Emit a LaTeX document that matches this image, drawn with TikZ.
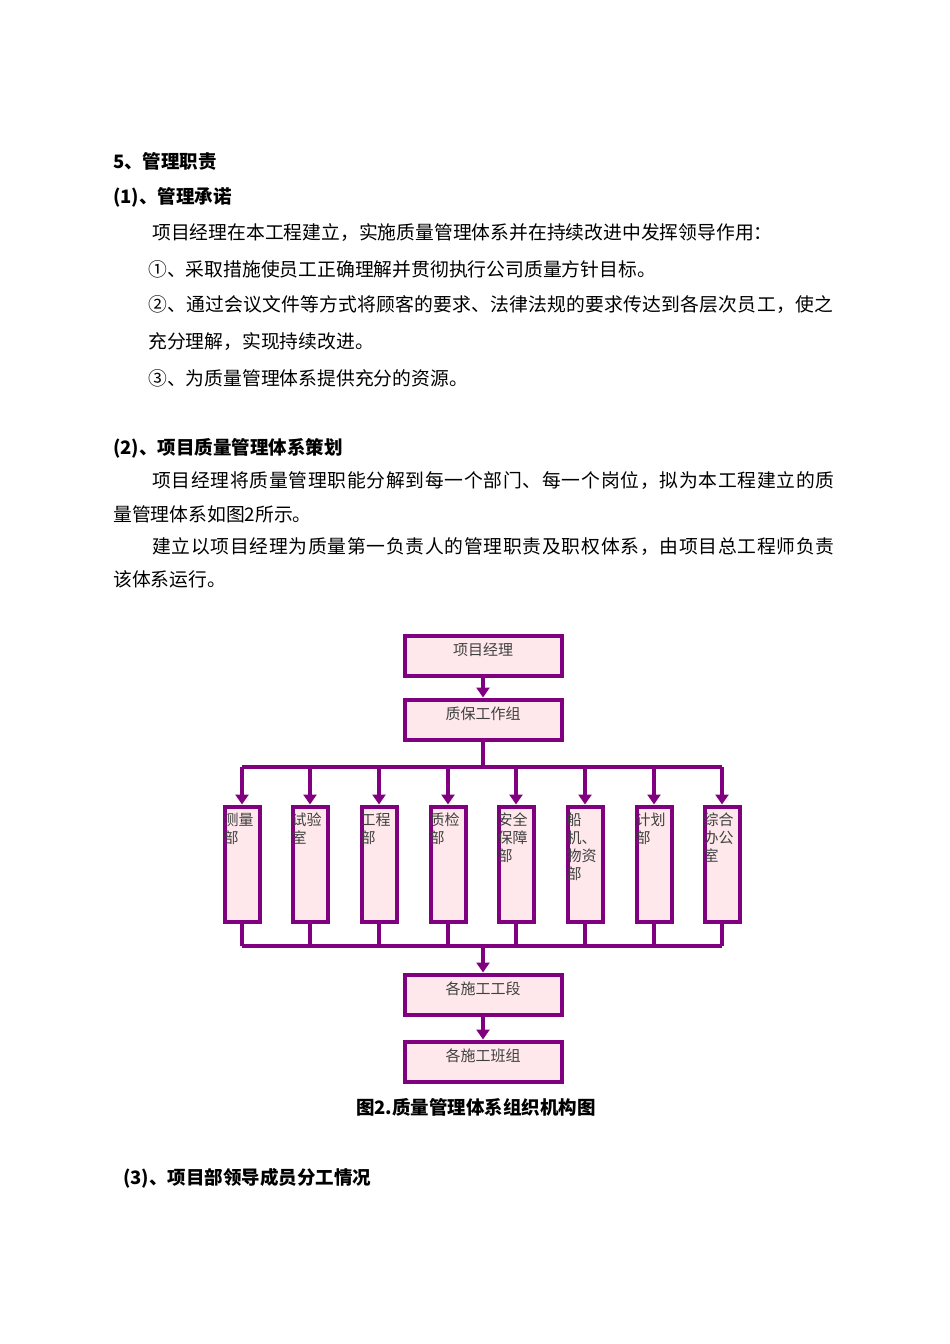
\documentclass[tikz,border=0pt]{standalone}
\usepackage{fontspec}
\setmainfont{Noto Sans CJK SC}
\usetikzlibrary{arrows.meta}
\definecolor{pu}{HTML}{800080}
\definecolor{pk}{HTML}{FFE8EC}
\begin{document}
\begin{tikzpicture}[x=1pt,y=-1pt,
 tx/.style={anchor=west,inner sep=0pt,font=\fontsize{18.8}{20}\selectfont},
 bt/.style={tx,font=\fontsize{18.5}{20}\selectfont\bfseries},
 bx/.style={draw=pu,fill=pk,line width=4pt,minimum width=157pt,minimum height=40pt,inner sep=0pt},
 sb/.style={draw=pu,fill=pk,line width=4pt,minimum width=35pt,minimum height=115pt,inner sep=0pt},
 ln/.style={draw=pu,line width=4pt},
 ar/.style={ln,-{Triangle[length=10pt,width=13pt]}},
 lab/.style={font=\fontsize{15}{17}\selectfont,color=black!75}]
\useasboundingbox (0,0) rectangle (950,1344);
\node[bt] (h5) at (113,161) {5、管理职责};
\node[bt] (h1) at (113,197) {(1)、管理承诺};
\node[tx] (p1) at (152,233) {项目经理在本工程建立，实施质量管理体系并在持续改进中发挥领导作用：};
\node[tx] (p2) at (148,269) {①、采取措施使员工正确理解并贯彻执行公司质量方针目标。};
\node[tx] (p3) at (148,305) {\addfontfeature{LetterSpace=1.2}②、通过会议文件等方式将顾客的要求、法律法规的要求传达到各层次员工，使之};
\node[tx] (p4) at (148,342) {充分理解，实现持续改进。};
\node[tx] (p5) at (148,378) {③、为质量管理体系提供充分的资源。};
\node[bt] (h2) at (113,448) {(2)、项目质量管理体系策划};
\node[tx] (q1) at (152,481) {\addfontfeature{LetterSpace=3.8}项目经理将质量管理职能分解到每一个部门、每一个岗位，拟为本工程建立的质};
\node[tx] (q2) at (113,514) {量管理体系如图2所示。};
\node[tx] (q3) at (152,547) {\addfontfeature{LetterSpace=3.8}建立以项目经理为质量第一负责人的管理职责及职权体系，由项目总工程师负责};
\node[tx] (q4) at (113,579) {该体系运行。};

\node[bx] (b1) at (483,655.5) {};
\node[lab,anchor=north] at (b1.north) [yshift=-6pt] {项目经理};
\node[bx] (b2) at (483,719.5) {};
\node[lab,anchor=north] at (b2.north) [yshift=-6pt] {质保工作组};
\node[bx] (b3) at (483,994.5) {};
\node[lab,anchor=north] at (b3.north) [yshift=-6pt] {各施工工段};
\node[bx] (b4) at (483,1061.5) {};
\node[lab,anchor=north] at (b4.north) [yshift=-6pt] {各施工班组};
\draw[ar] (b1) -- (b2);
\draw[ar] (b3) -- (b4);
\coordinate (t) at (483,767);
\coordinate (u) at (483,946);
\draw[ln] (b2.south) -- (t);
\draw[ln] (242,767) -- (722,767);
\draw[ln] (242,946) -- (722,946);
\draw[ar] (u) -- (b3);
\foreach \x/\n/\t in {242/s1/{测量\\部},310/s2/{试验\\室},379/s3/{工程\\部},448/s4/{质检\\部},516/s5/{安全\\保障\\部},585/s6/{船\\机、\\物资\\部},654/s7/{计划\\部},722/s8/{综合\\办公\\室}}{
 \node[sb] (\n) at (\x,864) {};
 \draw[ar] (\x,767) -- (\n.north);
 \draw[ln] (\n.south) -- (\x,946);
 \node[lab,anchor=north west,align=left,inner sep=0pt,font=\fontsize{15}{18}\selectfont] at ([xshift=1pt,yshift=-8pt]\n.north west) {\t};
}
\node[font=\fontsize{18.5}{20}\selectfont\bfseries] (cap) at (476,1107) {图2.质量管理体系组织机构图};
\node[bt] (h3) at (123,1178) {(3)、项目部领导成员分工情况};
\end{tikzpicture}
\end{document}
